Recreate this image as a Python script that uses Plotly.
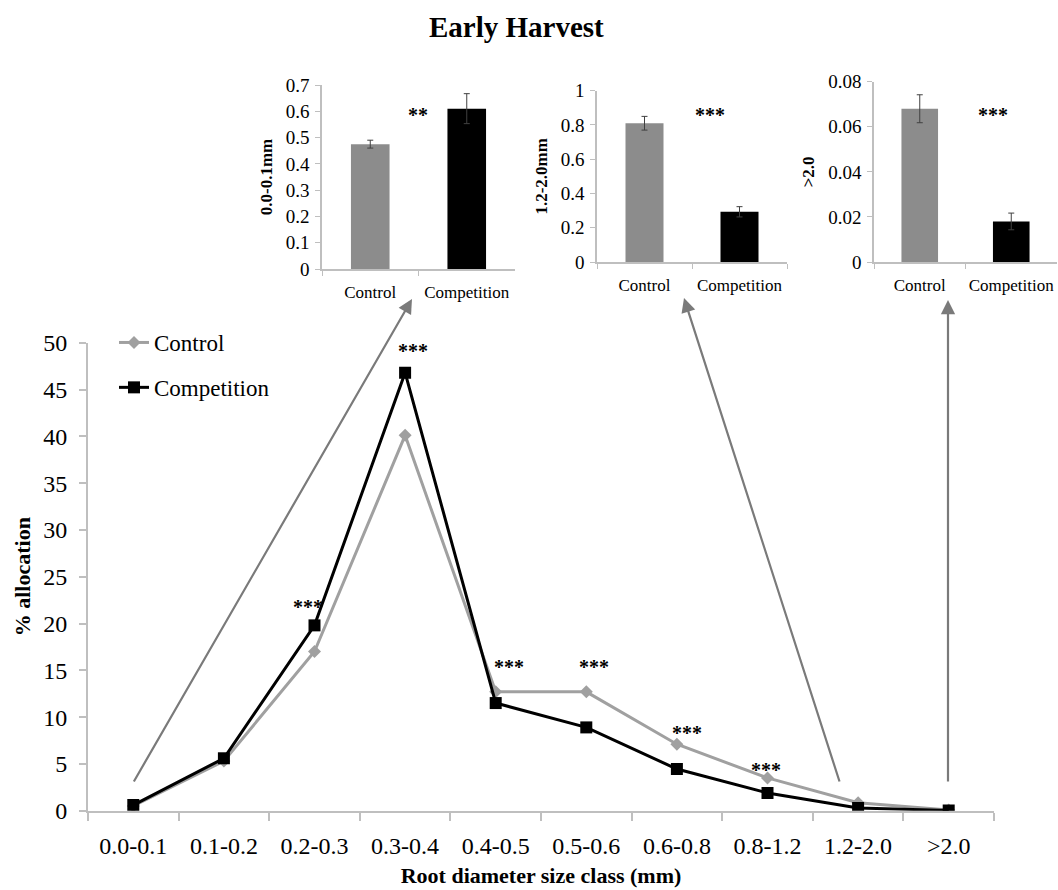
import plotly.graph_objects as go

# ---------------- data ----------------
size_classes = ["0.0-0.1", "0.1-0.2", "0.2-0.3", "0.3-0.4", "0.4-0.5",
                "0.5-0.6", "0.6-0.8", "0.8-1.2", "1.2-2.0", ">2.0"]
control_pct = [0.5, 5.3, 17.0, 40.1, 12.7, 12.7, 7.1, 3.5, 0.85, 0.07]
competition_pct = [0.6, 5.6, 19.8, 46.8, 11.5, 8.9, 4.45, 1.9, 0.3, 0.02]

# significance labels on the main chart: class, y position (data units), x offset (px)
sig_classes = ["0.2-0.3", "0.3-0.4", "0.4-0.5", "0.5-0.6", "0.6-0.8", "0.8-1.2"]
sig_y = [22.4, 49.8, 16.0, 16.0, 8.9, 5.0]
sig_dx = [-7, 8, 13, 8, 10, -2]

treatments = ["Control", "Competition"]
inset_titles = ["0.0-0.1mm", "1.2-2.0mm", ">2.0"]
inset_values = [[0.475, 0.61], [0.81, 0.293], [0.068, 0.018]]
inset_errors = [[0.015, 0.057], [0.04, 0.03], [0.0062, 0.0037]]
inset_sig = ["**", "***", "***"]
inset_sig_y = [0.609, 0.893, 0.0679]
inset_sig_x = [0.49, 0.69, 0.8]
inset_ranges = [0.7, 1.0, 0.08]
inset_dticks = [0.1, 0.2, 0.02]

FONT = "Liberation Serif, Times New Roman, serif"
W, H = 1058, 890
AXC = "#bfbfbf"

def px_x(p):
    return p / W

def px_y(p):
    return 1 - p / H

fig = go.Figure()

# main lines
fig.add_trace(go.Scatter(
    x=size_classes, y=control_pct, name="Control", mode="lines+markers",
    line=dict(color="#a0a0a0", width=3),
    marker=dict(symbol="diamond", size=10, color="#a0a0a0"),
    legendgroup="c", xaxis="x", yaxis="y"))
fig.add_trace(go.Scatter(
    x=size_classes, y=competition_pct, name="Competition", mode="lines+markers",
    line=dict(color="black", width=3),
    marker=dict(symbol="square", size=12, color="black"),
    legendgroup="k", xaxis="x", yaxis="y"))

# insets
inset_dom_x = [(322, 515), (597, 787), (874, 1057)]
inset_dom_y = [(85, 269), (90.7, 262), (81.7, 262)]
for i in range(3):
    k = i + 2
    fig.add_trace(go.Bar(
        x=treatments, y=inset_values[i],
        marker=dict(color=["#8c8c8c", "black"], line=dict(width=0)),
        width=0.4,
        error_y=dict(type="data", array=inset_errors[i], color="#404040",
                     thickness=1, width=3),
        showlegend=False, xaxis=f"x{k}", yaxis=f"y{k}"))

layout = dict(
    width=W, height=H,
    margin=dict(l=0, r=0, t=0, b=0, autoexpand=False),
    paper_bgcolor="white", plot_bgcolor="white",
    font=dict(family=FONT, color="black"),
    showlegend=True,
    legend=dict(x=px_x(114), y=px_y(321), xanchor="left", yanchor="top",
                font=dict(size=23, family=FONT), tracegroupgap=12,
                bgcolor="rgba(0,0,0,0)"),
    xaxis=dict(domain=[px_x(88), px_x(994)], anchor="y", type="category",
               range=[-0.5, 9.5], tickson="boundaries", ticks="outside",
               ticklen=8, tickcolor=AXC, tickwidth=2, automargin=False,
               showline=True, linecolor=AXC, linewidth=2, showgrid=False,
               tickfont=dict(size=24, family=FONT), ticklabelstandoff=12,
               title=dict(text="<b>Root diameter size class (mm)</b>",
                          font=dict(size=22, family=FONT), standoff=10)),
    yaxis=dict(domain=[px_y(810.7), px_y(342.7)], anchor="x",
               range=[0, 50], dtick=5, ticks="outside", ticklen=7,
               tickcolor=AXC, tickwidth=2, showline=True, linecolor=AXC,
               linewidth=2, showgrid=False, zeroline=False, automargin=False,
               tickfont=dict(size=24, family=FONT), ticklabelstandoff=7,
               title=dict(text="<b>% allocation</b>",
                          font=dict(size=22, family=FONT), standoff=6)),
    annotations=[],
)

for i in range(3):
    k = i + 2
    x0, x1 = inset_dom_x[i]
    yt, yb = inset_dom_y[i]
    layout[f"xaxis{k}"] = dict(
        domain=[px_x(x0), px_x(x1)], anchor=f"y{k}", type="category",
        range=[-0.5, 1.5], tickson="boundaries", ticks="outside", ticklen=5,
        tickcolor=AXC, showline=True, linecolor=AXC, linewidth=1.5,
        showgrid=False, automargin=False,
        tickfont=dict(size=17, family=FONT), ticklabelstandoff=7)
    layout[f"yaxis{k}"] = dict(
        domain=[px_y(yb), px_y(yt)], anchor=f"x{k}",
        range=[0, inset_ranges[i]], dtick=inset_dticks[i], ticks="outside",
        ticklen=5, tickcolor=AXC, showline=True, linecolor=AXC,
        linewidth=1.5, showgrid=False, zeroline=False, automargin=False,
        tickfont=dict(size=19, family=FONT), ticklabelstandoff=2,
        title=dict(text=f"<b>{inset_titles[i]}</b>",
                   font=dict(size=17, family=FONT), standoff=9))

ann = layout["annotations"]
ann.append(dict(text="<b>Early Harvest</b>", xref="paper", yref="paper",
                x=px_x(516), y=px_y(27), xanchor="center", yanchor="middle",
                showarrow=False, font=dict(size=29, family=FONT)))

for c, yv, dx in zip(sig_classes, sig_y, sig_dx):
    ann.append(dict(text="<b>***</b>", xref="x", yref="y", x=c, y=yv,
                    xshift=dx, yshift=-6, showarrow=False,
                    xanchor="center", yanchor="middle",
                    font=dict(size=20, family=FONT)))

for i in range(3):
    k = i + 2
    ann.append(dict(text=f"<b>{inset_sig[i]}</b>", xref=f"x{k}", yref=f"y{k}",
                    x=inset_sig_x[i], y=inset_sig_y[i], yshift=-6,
                    xanchor="center", yanchor="middle",
                    showarrow=False, font=dict(size=20, family=FONT)))

# arrows linking size classes to insets (head position, tail position in px)
arrows = [((412, 299), (133, 783)), ((684, 298), (840, 783)),
          ((948, 300), (948, 783))]
for (hx, hy), (tx, ty) in arrows:
    ann.append(dict(text="", xref="paper", yref="paper", x=px_x(hx),
                    y=px_y(hy), ax=tx - hx, ay=ty - hy, showarrow=True,
                    arrowhead=2, arrowsize=1.3, arrowwidth=2.2,
                    arrowcolor="#7a7a7a"))

fig.update_layout(**layout)
fig.write_html(
    "out.html",
    config={"displayModeBar": False},
    post_script="document.body.style.margin='0';document.body.style.overflow='hidden';",
)
